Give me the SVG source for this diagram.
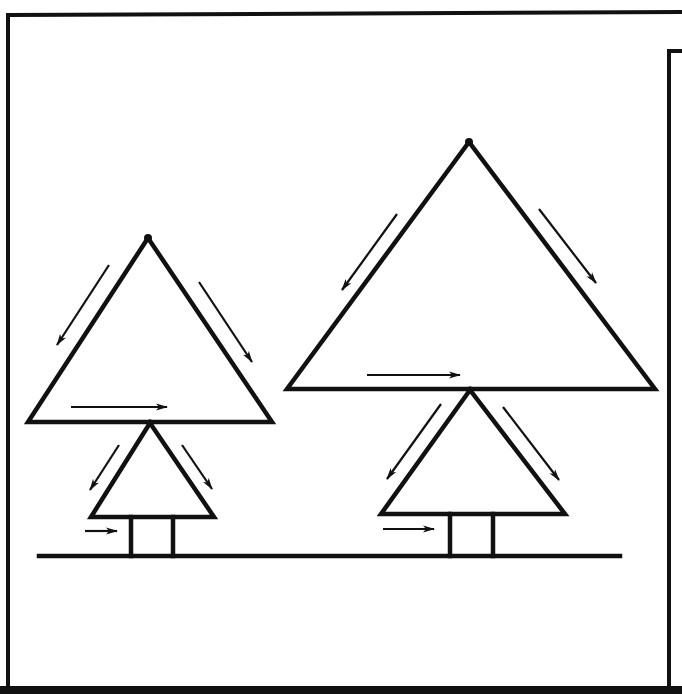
<svg xmlns="http://www.w3.org/2000/svg" width="682" height="694" viewBox="0 0 682 694">
<defs>
<marker id="ah" viewBox="0 0 12 8" refX="11" refY="4" markerWidth="12" markerHeight="8" orient="auto" markerUnits="userSpaceOnUse">
<path d="M0,0.5 L12,4 L0,7.5 L3,4 Z" fill="#111"/>
</marker>
<style>
.shape{fill:none;stroke:#111;stroke-width:4.5;stroke-linejoin:miter;stroke-linecap:square}
.frame{fill:none;stroke:#111;stroke-width:4}
.arr{fill:none;stroke:#111;stroke-width:2.2;marker-end:url(#ah)}
.dot{fill:#111}
</style>
</defs>
<rect width="682" height="694" fill="#fff"/>
<g id="frame">
<path class="frame" d="M8,690 L8,15 L682,12"/>
<path class="frame" d="M682,51 L669,51 L669,688"/>
<rect x="0" y="686" width="682" height="8" fill="#111"/>
</g>
<g id="ground">
<line class="shape" x1="39" y1="556" x2="620" y2="556"/>
</g>
<g id="left-tree">
<polygon class="shape" points="148,238 28,422 272,422"/>
<circle class="dot" cx="148" cy="238" r="4"/>
<polygon class="shape" points="150,423 91,517 214,517"/>
<circle class="dot" cx="150" cy="423" r="3.5"/>
<line class="shape" x1="131" y1="517" x2="131" y2="556"/>
<line class="shape" x1="173" y1="517" x2="173" y2="556"/>
</g>
<g id="right-tree">
<polygon class="shape" points="469,142 287,389 655,389"/>
<circle class="dot" cx="469" cy="142" r="4"/>
<polygon class="shape" points="470,390 381,514 565,514"/>
<circle class="dot" cx="470" cy="390" r="3.5"/>
<line class="shape" x1="450" y1="514" x2="450" y2="556"/>
<line class="shape" x1="493" y1="514" x2="493" y2="556"/>
</g>
<g id="connectors">
<line class="arr" x1="109" y1="265" x2="57" y2="345"/>
<line class="arr" x1="199" y1="282" x2="252" y2="362"/>
<line class="arr" x1="71" y1="407" x2="167" y2="407"/>
<line class="arr" x1="119" y1="445" x2="90" y2="490"/>
<line class="arr" x1="182" y1="445" x2="212" y2="489"/>
<line class="arr" x1="85" y1="531" x2="117" y2="531"/>
<line class="arr" x1="397" y1="214" x2="342" y2="290"/>
<line class="arr" x1="539" y1="209" x2="596" y2="283"/>
<line class="arr" x1="367" y1="375" x2="460" y2="375"/>
<line class="arr" x1="441" y1="404" x2="387" y2="479"/>
<line class="arr" x1="503" y1="407" x2="559" y2="480"/>
<line class="arr" x1="383" y1="529" x2="434" y2="529"/>
</g>
</svg>
